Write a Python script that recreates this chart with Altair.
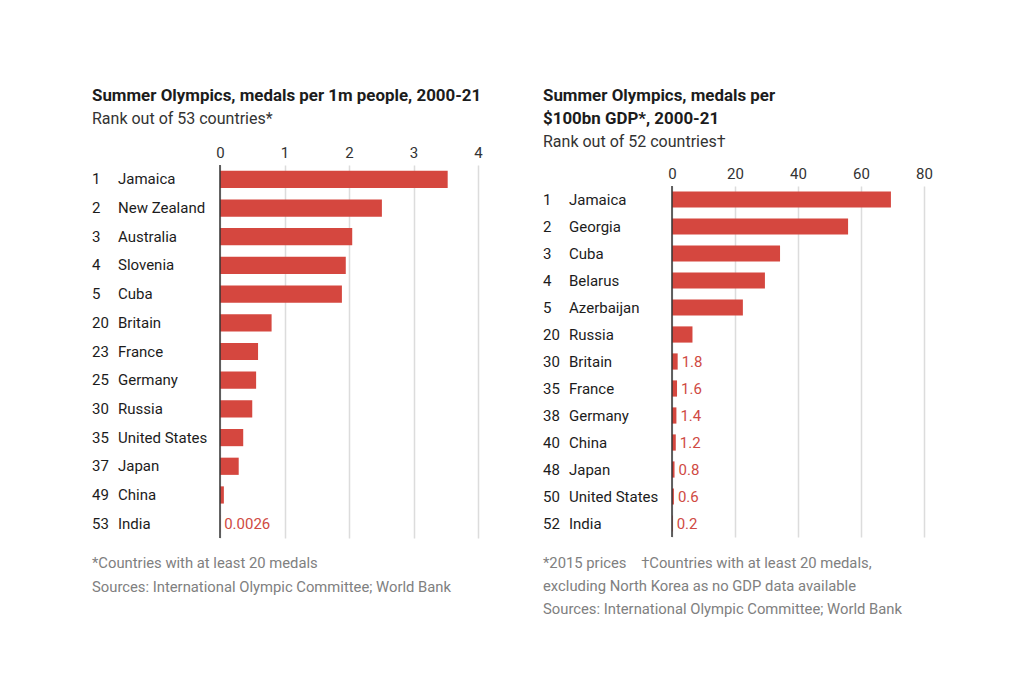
import altair as alt
import pandas as pd

# ---------------- data ----------------
l_ranks = [1, 2, 3, 4, 5, 20, 23, 25, 30, 35, 37, 49, 53]
l_countries = ["Jamaica", "New Zealand", "Australia", "Slovenia", "Cuba", "Britain",
               "France", "Germany", "Russia", "United States", "Japan", "China", "India"]
l_values = [3.53, 2.51, 2.05, 1.95, 1.89, 0.80, 0.59, 0.56, 0.50, 0.36, 0.29, 0.06, 0.0026]
l_labels = ["", "", "", "", "", "", "", "", "", "", "", "", "0.0026"]
l_ticks = [0, 1, 2, 3, 4]

r_ranks = [1, 2, 3, 4, 5, 20, 30, 35, 38, 40, 48, 50, 52]
r_countries = ["Jamaica", "Georgia", "Cuba", "Belarus", "Azerbaijan", "Russia", "Britain",
               "France", "Germany", "China", "Japan", "United States", "India"]
r_values = [69.5, 55.9, 34.3, 29.5, 22.5, 6.5, 1.8, 1.6, 1.4, 1.2, 0.8, 0.6, 0.2]
r_labels = ["", "", "", "", "", "", "1.8", "1.6", "1.4", "1.2", "0.8", "0.6", "0.2"]
r_ticks = [0, 20, 40, 60, 80]

l_title = ["Summer Olympics, medals per 1m people, 2000-21"]
l_subtitle = "Rank out of 53 countries*"
l_foot = "*Countries with at least 20 medals\nSources: International Olympic Committee; World Bank"

r_title = ["Summer Olympics, medals per", "$100bn GDP*, 2000-21"]
r_subtitle = "Rank out of 52 countries\u2020"
r_foot = ("*2015 prices\u00a0\u00a0\u00a0\u00a0\u2020Countries with at least 20 medals,\n"
          "excluding North Korea as no GDP data available\n"
          "Sources: International Olympic Committee; World Bank")

FONT = "Roboto"
RED = "#d5473f"
LABEL_RED = "#cf4a43"
DARK = "#1c1c1c"
GREY = "#808080"


def panel(ranks, countries, values, labels, ticks, width, height,
          title, subtitle, foot, foot_lh, foot_gap, rank_x, ctry_x, gap):
    df = pd.DataFrame({"rank": [str(r) for r in ranks], "country": countries,
                       "value": values, "label": labels})
    xs = alt.Scale(domain=[ticks[0], ticks[-1]], nice=False, zero=True)
    xaxis = alt.Axis(orient="top", values=ticks, grid=True, gridColor="#dcdcdc",
                     gridWidth=1.5, domain=False, ticks=False, labelPadding=5,
                     labelFlush=False, labelFont=FONT, labelFontSize=15,
                     labelColor="#333333", format="d", title=None)
    ys = alt.Scale(paddingInner=0.4, paddingOuter=0.2)
    y = alt.Y("country:N", sort=countries, scale=ys, axis=None)
    base = alt.Chart(df)

    bars = base.mark_bar(color=RED).encode(
        x=alt.X("value:Q", scale=xs, axis=xaxis), y=y)
    zero = alt.Chart(pd.DataFrame({"value": [0]})).mark_rule(
        color="#333333", strokeWidth=1.5).encode(x=alt.X("value:Q", scale=xs, axis=xaxis))
    rank_txt = base.mark_text(align="left", baseline="middle", font=FONT, fontSize=15,
                              color=DARK).encode(y=y, x=alt.value(rank_x), text="rank:N")
    ctry_txt = base.mark_text(align="left", baseline="middle", font=FONT, fontSize=15,
                              color=DARK).encode(y=y, x=alt.value(ctry_x), text="country:N")
    val_txt = base.mark_text(align="left", baseline="middle", dx=4, font=FONT, fontSize=15,
                             color=LABEL_RED).encode(
        y=y, x=alt.X("value:Q", scale=xs, axis=xaxis), text="label:N")
    foot_txt = alt.Chart(pd.DataFrame({"t": [foot]})).mark_text(
        align="left", baseline="top", lineBreak="\n", lineHeight=foot_lh, font=FONT,
        fontSize=14.8, color=GREY).encode(x=alt.value(rank_x), y=alt.value(height + foot_gap),
                                          text="t:N")

    plot = alt.layer(bars, zero, rank_txt, ctry_txt, val_txt, foot_txt).properties(
        width=width, height=height)

    header = alt.Chart(pd.DataFrame({"a": [0]})).mark_point(opacity=0, size=1).encode(
        x=alt.value(0), y=alt.value(0)
    ).properties(
        width=width, height=1,
        title=alt.TitleParams(text=title, subtitle=subtitle, orient="bottom",
                              anchor="start", frame="group",
                              dx=rank_x, font=FONT, fontSize=16.9, fontWeight="bold",
                              color=DARK, lineHeight=23, subtitleFont=FONT,
                              subtitleFontSize=16, subtitleColor="#333333",
                              subtitlePadding=6, offset=2),
    )
    return alt.vconcat(header, plot, spacing=gap)


left = panel(l_ranks, l_countries, l_values, l_labels, l_ticks, 258, 373,
             l_title, l_subtitle, l_foot, 24, 18, -128, -102, 18)
right = panel(r_ranks, r_countries, r_values, r_labels, r_ticks, 252, 351,
              r_title, r_subtitle, r_foot, 23, 19, -129, -103, 16)

chart = alt.hconcat(left, right, spacing=60).properties(
    padding={"left": 84, "top": 76, "right": 5, "bottom": 5},
    background="white",
).configure_view(strokeWidth=0)

chart.save("out.html", embed_options={"renderer": "svg", "actions": False})
